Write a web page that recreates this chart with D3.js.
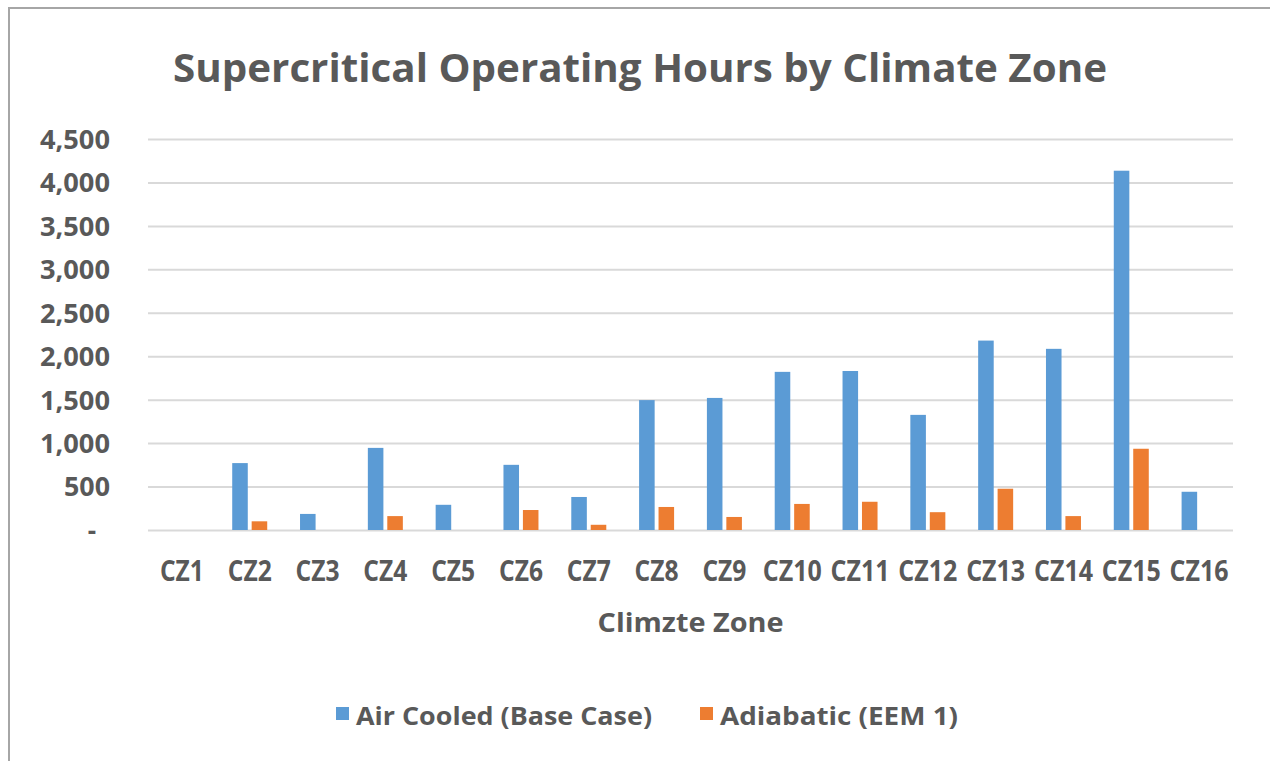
<!DOCTYPE html>
<html lang="en">
<head>
<meta charset="UTF-8">
<title>Supercritical Operating Hours by Climate Zone</title>
<script src="https://d3js.org/d3.v7.min.js"></script>
<style>
  body { margin: 0; background: #fff; }
  text { font-family: "Open Sans", "Noto Sans", sans-serif; font-weight: bold; fill: #595959; }
  .grid line { stroke: #d9d9d9; stroke-width: 2; }
</style>
</head>
<body>
<script>
// data
const zones = ["CZ1","CZ2","CZ3","CZ4","CZ5","CZ6","CZ7","CZ8","CZ9","CZ10","CZ11","CZ12","CZ13","CZ14","CZ15","CZ16"];
const airCooled = [0, 770, 185, 945, 290, 750, 380, 1495, 1520, 1820, 1830, 1325, 2180, 2085, 4135, 440];
const adiabatic = [0, 100, 0, 160, 0, 230, 60, 265, 150, 300, 325, 205, 475, 160, 935, 0];
const seriesNames = ["Air Cooled (Base Case)", "Adiabatic (EEM 1)"];
const seriesColors = ["#5b9bd5", "#ed7d31"];
const yTicks = [0, 500, 1000, 1500, 2000, 2500, 3000, 3500, 4000, 4500];

const w = 1270, h = 761;
const plotL = 148, plotR = 1233, plotT = 139, plotB = 530;

const svg = d3.select("body").append("svg")
  .attr("width", w).attr("height", h);

// outer chart border (only top and left are visible in the picture)
svg.append("rect")
  .attr("x", 9).attr("y", 8)
  .attr("width", w + 20).attr("height", h + 20)
  .attr("fill", "none").attr("stroke", "#a6a6a6").attr("stroke-width", 2);

const x0 = d3.scaleBand().domain(zones).range([plotL, plotR]);
const half = x0.bandwidth() / 2;
const x1 = d3.scaleBand().domain([0, 1])
  .range([half - 17.5, half + 17.5]).paddingInner(0.2);
const y = d3.scaleLinear().domain([0, 4500]).range([plotB, plotT]);

// gridlines
svg.append("g").attr("class", "grid")
  .attr("transform", "translate(" + plotL + ",0)")
  .call(d3.axisLeft(y).tickValues(yTicks).tickSize(-(plotR - plotL)).tickFormat(""))
  .call(g => g.select(".domain").remove());

// y labels
const yAxis = svg.append("g")
  .attr("transform", "translate(110,0)")
  .call(d3.axisLeft(y).tickValues(yTicks).tickSize(0).tickPadding(0)
    .tickFormat(d => d === 0 ? "-" : d3.format(",")(d)));
yAxis.select(".domain").remove();
yAxis.selectAll("text")
  .attr("font-size", 26).attr("dy", "0.36em")
  .attr("x", d => d === 0 ? -14 : 0)
  .attr("textLength", d => d === 0 ? null : (d >= 1000 ? 70 : 46))
  .attr("lengthAdjust", "spacingAndGlyphs");

// bars
const rows = zones.map((z, i) => ({zone: z, vals: [airCooled[i], adiabatic[i]]}));
const groups = svg.append("g").selectAll("g")
  .data(rows).enter().append("g")
  .attr("transform", d => "translate(" + x0(d.zone) + ",0)");
groups.selectAll("rect")
  .data(d => d.vals.map((v, s) => ({s: s, v: v})).filter(d => d.v > 0))
  .enter().append("rect")
  .attr("x", d => x1(d.s))
  .attr("width", x1.bandwidth())
  .attr("y", d => y(d.v))
  .attr("height", d => y(0) - y(d.v))
  .attr("fill", d => seriesColors[d.s]);

// x labels
const xAxis = svg.append("g")
  .attr("transform", "translate(0," + plotB + ")")
  .call(d3.axisBottom(x0).tickSize(0).tickPadding(0));
xAxis.select(".domain").remove();
xAxis.selectAll("text")
  .attr("font-size", 28).attr("y", 51).attr("dy", 0)
  .attr("textLength", d => d.length > 3 ? 59 : 44)
  .attr("lengthAdjust", "spacingAndGlyphs");

// title
svg.append("text")
  .attr("x", 640).attr("y", 82)
  .attr("text-anchor", "middle")
  .attr("font-size", 40)
  .attr("textLength", 934).attr("lengthAdjust", "spacingAndGlyphs")
  .text("Supercritical Operating Hours by Climate Zone");

// axis title
svg.append("text")
  .attr("x", (plotL + plotR) / 2).attr("y", 632)
  .attr("text-anchor", "middle")
  .attr("font-size", 27)
  .attr("textLength", 186).attr("lengthAdjust", "spacingAndGlyphs")
  .text("Climzte Zone");

// legend
const legendX = [336, 700];
const legendW = [296, 238];
const legend = svg.append("g").selectAll("g")
  .data(seriesNames).enter().append("g")
  .attr("transform", (d, i) => "translate(" + legendX[i] + ",0)");
legend.append("rect")
  .attr("x", 0).attr("y", 707).attr("width", 13).attr("height", 13)
  .attr("fill", (d, i) => seriesColors[i]);
legend.append("text")
  .attr("x", 20).attr("y", 725)
  .attr("font-size", 25)
  .attr("textLength", (d, i) => legendW[i]).attr("lengthAdjust", "spacingAndGlyphs")
  .text(d => d);
</script>
</body>
</html>
